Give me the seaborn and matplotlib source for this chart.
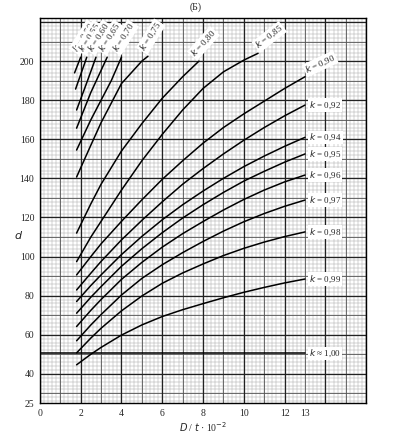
import numpy as np
import pandas as pd
import seaborn as sns
import matplotlib.pyplot as plt

# curve data (x = D/t*10^-2, y = d)
x_long = [1.8, 2.5, 3, 4, 5, 6, 7, 8, 9, 10, 11, 12, 13]
y_099 = [44.6, 50, 53.5, 59.8, 65, 69.3, 72.8, 75.9, 78.9, 81.7, 84.2, 86.5, 88.5]
y_098 = [50.7, 58.3, 63.3, 72.2, 79.8, 86.3, 91.6, 96.2, 100.5, 104.2, 107.4, 110.2, 112.6]
y_097 = [56.9, 65, 70.3, 80.3, 88.8, 95.8, 102, 107.7, 113, 117.8, 122, 125.7, 128.9]
y_096 = [64.2, 72.5, 78, 88.3, 97, 104.8, 111.7, 117.9, 123.8, 129.2, 134, 138.2, 141.7]
y_095 = [71, 79.2, 84.6, 95, 104, 112.2, 119.7, 126.5, 132.8, 138.6, 143.6, 148.3, 152.5]
y_094 = [77, 85.2, 90.6, 101, 110.3, 118.8, 126.5, 133.5, 140, 146, 151.4, 156.4, 161]
y_092 = [82.9, 91.5, 97.5, 108.5, 118.5, 128, 137, 145, 152.5, 159.5, 166, 172, 177.5]
y_090 = [90.6, 100, 106.5, 118, 129, 139.5, 149, 158, 166, 173, 179.5, 186, 192]

x_085 = [1.8, 2.5, 3, 4, 5, 6, 7, 8, 9, 10, 10.7]
y_085 = [97.4, 110, 118, 134, 149, 162.5, 175, 186, 194.5, 200.5, 204]
x_080 = [1.8, 2.5, 3, 4, 5, 6, 7, 7.8]
y_080 = [112, 127, 137, 154, 168, 181, 192, 200]
x_075 = [1.8, 2.5, 3, 4, 5, 5.3]
y_075 = [140.7, 157, 168.5, 188.5, 200, 202.5]
x_070 = [1.8, 2.5, 3, 3.5, 4.0]
y_070 = [154.5, 170, 180, 190, 202]
x_065 = [1.8, 2.5, 3.3]
y_065 = [165.7, 184, 202]
x_060 = [1.8, 2.3, 2.75]
y_060 = [175, 189, 202]
x_055 = [1.75, 2.3]
y_055 = [185.7, 202]
x_050 = [1.7, 2.0]
y_050 = [194, 202]

x_100 = [0, 13]
y_100 = [50.5, 50.5]

x_ticks = [0, 2, 4, 6, 8, 10, 12, 13]
y_ticks = [25, 40, 60, 80, 100, 120, 140, 160, 180, 200]

curves = [
    ("0,50", x_050, y_050), ("0,55", x_055, y_055), ("0,60", x_060, y_060),
    ("0,65", x_065, y_065), ("0,70", x_070, y_070), ("0,75", x_075, y_075),
    ("0,80", x_080, y_080), ("0,85", x_085, y_085),
    ("0,90", x_long, y_090), ("0,92", x_long, y_092), ("0,94", x_long, y_094),
    ("0,95", x_long, y_095), ("0,96", x_long, y_096), ("0,97", x_long, y_097),
    ("0,98", x_long, y_098), ("0,99", x_long, y_099), ("1,00", x_100, y_100),
]

rows = []
for name, xs, ys in curves:
    for xv, yv in zip(xs, ys):
        rows.append({"k": name, "x": xv, "y": yv})
df = pd.DataFrame(rows)

sns.set_style("white")
plt.rcParams["font.family"] = ["Liberation Serif", "DejaVu Serif"]

fig = plt.figure(figsize=(3.95, 4.42), dpi=100)
ax = fig.add_axes([0.101, 0.088, 0.826, 0.871])

# graph paper background
for xv in np.arange(0, 16.01, 0.2):
    ax.axvline(xv, color="#a8a8a8", lw=0.35, zorder=0)
for yv in np.arange(26, 222, 2):
    ax.axhline(yv, color="#a8a8a8", lw=0.35, zorder=0)
for xv in np.arange(1, 16, 2):
    ax.axvline(xv, color="#555555", lw=0.6, zorder=0)
for yv in np.arange(30, 222, 20):
    ax.axhline(yv, color="#555555", lw=0.6, zorder=0)
for xv in np.arange(0, 16.01, 2):
    ax.axvline(xv, color="#222222", lw=0.9, zorder=0)
for yv in np.arange(40, 222, 20):
    ax.axhline(yv, color="#222222", lw=0.9, zorder=0)

sns.lineplot(data=df, x="x", y="y", units="k", estimator=None, sort=False,
             color="black", lw=1.1, ax=ax, legend=False)

ax.set_xlim(0, 16)
ax.set_ylim(25, 222)
ax.set_xticks(x_ticks)
ax.set_yticks(y_ticks)
ax.tick_params(labelsize=7, length=0, pad=4)
for s in ax.spines.values():
    s.set_color("black")
    s.set_linewidth(1.0)

box = dict(facecolor="white", edgecolor="none", pad=0.8)
for name, xs, ys in curves:
    txt = "$k$ = " + name
    if name == "1,00":
        txt = "$k$ ≈ 1,00"
    if name == "0,90":
        ax.text(xs[-1] + 0.15, ys[-1] + 0.5, txt, fontsize=6.5, rotation=25, ha="left",
                va="bottom", rotation_mode="anchor", bbox=box)
    elif xs is x_long or name == "1,00":
        ax.text(xs[-1] + 0.2, ys[-1], txt, fontsize=6.5, ha="left", va="center", bbox=box)
    elif name == "0,80":
        ax.text(xs[-1] - 0.1, ys[-1] + 1, txt, fontsize=6.5, rotation=48, ha="left",
                va="bottom", rotation_mode="anchor", bbox=box)
    elif name == "0,85":
        ax.text(xs[-1] + 0.1, ys[-1] + 1, txt, fontsize=6.5, rotation=38, ha="left",
                va="bottom", rotation_mode="anchor", bbox=box)
    else:
        ax.text(xs[-1] - 0.05, ys[-1] + 1.5, txt, fontsize=6.5, rotation=58, ha="left",
                va="bottom", rotation_mode="anchor", bbox=box)

ax.set_xlabel("$D$ / $t$ · 10$^{-2}$", fontsize=7, labelpad=2)
ax.set_ylabel("$d$", fontsize=8, rotation=0, labelpad=6)
ax.yaxis.set_label_coords(-0.065, 0.42)
fig.text(0.496, 0.983, "(Б)", fontsize=7, ha="center", va="center")

fig.savefig("out.png", dpi=100)
